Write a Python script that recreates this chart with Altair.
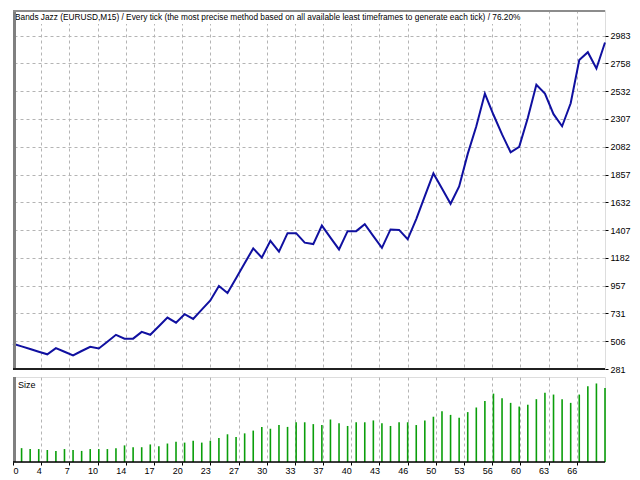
import altair as alt
import pandas as pd

title_text = ("Bands Jazz (EURUSD,M15) / Every tick (the most precise method based on "
              "all available least timeframes to generate each tick) / 76.20%")

# balance after each trade (index 0 = initial deposit)
balance = [485, 464, 443, 421, 400, 450, 421, 392, 427, 461,
           447, 502, 558, 527, 527, 582, 558, 628, 698, 656,
           725, 687, 762, 836, 954, 897, 1017, 1138, 1258, 1184,
           1319, 1232, 1382, 1382, 1305, 1293, 1443, 1346, 1250, 1398,
           1398, 1454, 1358, 1263, 1412, 1408, 1332, 1496, 1681, 1866,
           1743, 1620, 1760, 2024, 2248, 2513, 2341, 2182, 2037, 2082,
           2315, 2584, 2513, 2346, 2248, 2434, 2785, 2848, 2716, 2927]

# lot size of trades 1..69
sizes = [0.15, 0.14, 0.14, 0.13, 0.12, 0.14, 0.13, 0.12, 0.14, 0.14,
         0.14, 0.15, 0.18, 0.16, 0.16, 0.19, 0.17, 0.20, 0.22, 0.21,
         0.23, 0.21, 0.23, 0.26, 0.30, 0.27, 0.31, 0.34, 0.38, 0.36,
         0.40, 0.38, 0.43, 0.43, 0.41, 0.40, 0.46, 0.42, 0.39, 0.43,
         0.43, 0.45, 0.42, 0.39, 0.43, 0.43, 0.40, 0.45, 0.49, 0.55,
         0.51, 0.48, 0.54, 0.59, 0.66, 0.74, 0.69, 0.64, 0.60, 0.62,
         0.68, 0.75, 0.73, 0.68, 0.64, 0.73, 0.82, 0.85, 0.80]

y_ticks = [281, 506, 731, 957, 1182, 1407, 1632, 1857, 2082, 2307, 2532, 2758, 2983]
x_tick_labels = [0, 4, 7, 10, 14, 17, 20, 23, 27, 30, 33, 37, 40, 43, 46, 50, 53, 56, 60, 63, 66]

n_trades = len(sizes)
grid_steps = 21
x_tick_pos = [n_trades * k / grid_steps for k in range(len(x_tick_labels))]
label_expr = ("[" + ",".join("'%d'" % v for v in x_tick_labels) + "]"
              + "[round(datum.value*%d/%d)]" % (grid_steps, n_trades))

W, H1, H2 = 592, 359, 85
FONT = "Liberation Sans"
grid_kw = dict(grid=True, gridColor="#b4b4b4", gridDash=[3, 3], gridWidth=1)
xs = alt.Scale(domain=[0, n_trades], nice=False, zero=False)

bal_df = pd.DataFrame({"trade": list(range(len(balance))), "balance": balance})
size_df = pd.DataFrame({"trade": list(range(1, n_trades + 1)), "size": sizes})
one = pd.DataFrame({"a": [0]})

line = alt.Chart(bal_df).mark_line(color="#1010a0", strokeWidth=2).encode(
    x=alt.X("trade:Q", scale=xs,
            axis=alt.Axis(values=x_tick_pos, labels=False, ticks=False, domain=False,
                          title=None, **grid_kw)),
    y=alt.Y("balance:Q", scale=alt.Scale(domain=[281, 3190], nice=False, zero=False),
            axis=alt.Axis(orient="right", values=y_ticks, format="d", title=None,
                          domain=False, tickSize=3, tickColor="black", labelPadding=2,
                          labelFontSize=9, labelColor="black", labelFont=FONT, **grid_kw)),
)

title_bg = alt.Chart(one).mark_rect(color="white").encode(
    x=alt.value(3), x2=alt.value(515), y=alt.value(2), y2=alt.value(14))
title_txt = alt.Chart(one).mark_text(text=title_text, align="left", baseline="middle",
                                     fontSize=8.3, font=FONT, color="black").encode(
    x=alt.value(2), y=alt.value(8))
left_border = alt.Chart(one).mark_rule(color="#808080", strokeWidth=3).encode(
    x=alt.value(1.5), y=alt.value(0), y2=alt.value(H1))
top_border = alt.Chart(one).mark_rule(color="#8c8c8c", strokeWidth=2).encode(
    x=alt.value(0), x2=alt.value(W), y=alt.value(1))
bottom_border = alt.Chart(one).mark_rule(color="#202020", strokeWidth=2).encode(
    x=alt.value(0), x2=alt.value(W), y=alt.value(H1))

main = alt.layer(line, title_bg, title_txt, left_border, top_border, bottom_border).properties(
    width=W, height=H1)

bars = alt.Chart(size_df).mark_rule(color="#0a9e0a", strokeWidth=1.6).encode(
    x=alt.X("trade:Q", scale=xs,
            axis=alt.Axis(values=x_tick_pos, labelExpr=label_expr, title=None, domain=False,
                          tickSize=3, tickColor="black", labelFontSize=9, labelPadding=1,
                          labelColor="black", labelFont=FONT,
                          labelAlign={"condition": {"test": "datum.value == 0", "value": "left"},
                                      "value": "right"},
                          **grid_kw)),
    y=alt.Y("size:Q", scale=alt.Scale(domain=[0, 0.92], nice=False), axis=None),
    y2=alt.datum(0),
)
size_txt = alt.Chart(one).mark_text(text="Size", align="left", baseline="top",
                                    fontSize=9, font=FONT, color="black").encode(
    x=alt.value(5), y=alt.value(4))
left_border2 = alt.Chart(one).mark_rule(color="#808080", strokeWidth=3).encode(
    x=alt.value(1.5), y=alt.value(0), y2=alt.value(H2))
bottom_axis = alt.Chart(one).mark_rule(color="black", strokeWidth=1.5).encode(
    x=alt.value(0), x2=alt.value(W), y=alt.value(H2))

lower = alt.layer(bars, size_txt, left_border2, bottom_axis).properties(width=W, height=H2)

chart = alt.vconcat(main, lower, spacing=0).properties(padding=0).configure_view(
    stroke="black", strokeWidth=1).configure(background="white")

chart.save("out.html", embed_options={"renderer": "svg", "actions": False})
